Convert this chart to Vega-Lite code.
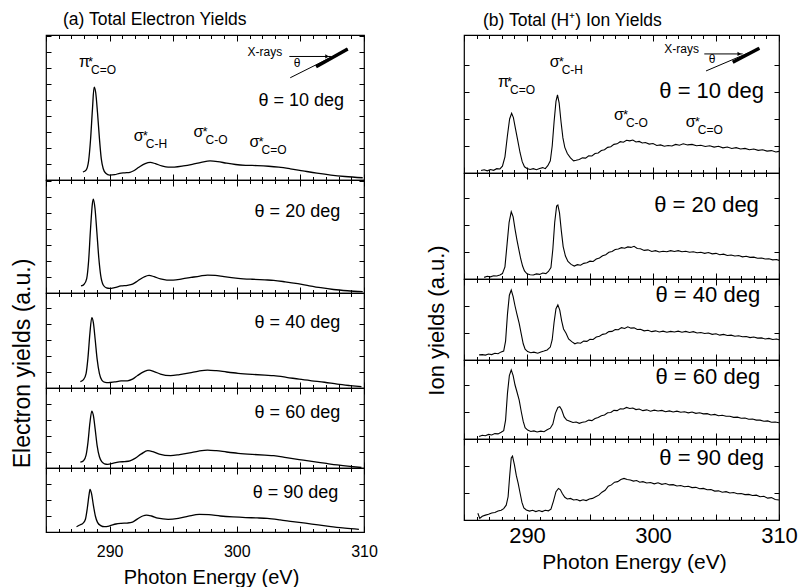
{
"$schema": "https://vega.github.io/schema/vega-lite/v6.json",
"background": "white",
"padding": {"left": 10, "top": 11, "right": 0, "bottom": 0},
"config": {
 "font": "Liberation Sans",
 "view": {"stroke": "black", "strokeWidth": 1.2},
 "axis": {"domain": false, "grid": false, "tickColor": "black", "tickWidth": 1, "labelColor": "black", "titleColor": "black", "titleFontWeight": "normal", "labelFont": "Liberation Sans", "titleFont": "Liberation Sans"},
 "axisY": {"labels": false, "tickSize": -5},
 "text": {"baseline": "alphabetic", "align": "left", "color": "black"},
 "title": {"font": "Liberation Sans", "fontWeight": "normal", "color": "black", "anchor": "start", "frame": "group"}
},
"datasets": {
 "L": [
  {"p":1,"e":287.9,"v":0.5},{"p":1,"e":288.15,"v":0.62},{"p":1,"e":288.35,"v":1.2},{"p":1,"e":288.5,"v":2.5},{"p":1,"e":288.65,"v":4.4},{"p":1,"e":288.78,"v":5.8},{"p":1,"e":288.9,"v":5.5},{"p":1,"e":289.05,"v":4.2},{"p":1,"e":289.2,"v":2.6},{"p":1,"e":289.35,"v":1.3},{"p":1,"e":289.5,"v":0.7},{"p":1,"e":289.7,"v":0.42},{"p":1,"e":290.0,"v":0.3},{"p":1,"e":290.4,"v":0.33},{"p":1,"e":290.8,"v":0.42},{"p":1,"e":291.2,"v":0.45},{"p":1,"e":291.6,"v":0.48},{"p":1,"e":291.9,"v":0.58},{"p":1,"e":292.3,"v":0.8},{"p":1,"e":292.8,"v":1.03},{"p":1,"e":293.2,"v":1.1},{"p":1,"e":293.6,"v":1.02},{"p":1,"e":294.1,"v":0.88},{"p":1,"e":294.6,"v":0.8},{"p":1,"e":295.1,"v":0.81},{"p":1,"e":295.8,"v":0.88},{"p":1,"e":296.5,"v":0.98},{"p":1,"e":297.2,"v":1.1},{"p":1,"e":297.9,"v":1.19},{"p":1,"e":298.5,"v":1.15},{"p":1,"e":299.2,"v":1.05},{"p":1,"e":299.9,"v":0.97},{"p":1,"e":300.7,"v":0.92},{"p":1,"e":301.6,"v":0.9},{"p":1,"e":302.5,"v":0.86},{"p":1,"e":303.3,"v":0.8},{"p":1,"e":304.2,"v":0.7},{"p":1,"e":305.2,"v":0.57},{"p":1,"e":306.3,"v":0.43},{"p":1,"e":307.4,"v":0.31},{"p":1,"e":308.5,"v":0.22},{"p":1,"e":309.9,"v":0.14},
  {"p":2,"e":287.75,"v":0.44},{"p":2,"e":288.0,"v":0.55},{"p":2,"e":288.2,"v":0.9},{"p":2,"e":288.35,"v":2.0},{"p":2,"e":288.5,"v":4.0},{"p":2,"e":288.65,"v":5.6},{"p":2,"e":288.72,"v":5.86},{"p":2,"e":288.85,"v":5.3},{"p":2,"e":289.0,"v":3.8},{"p":2,"e":289.15,"v":2.2},{"p":2,"e":289.3,"v":1.1},{"p":2,"e":289.5,"v":0.5},{"p":2,"e":289.75,"v":0.32},{"p":2,"e":290.0,"v":0.29},{"p":2,"e":290.4,"v":0.34},{"p":2,"e":290.9,"v":0.44},{"p":2,"e":291.4,"v":0.48},{"p":2,"e":291.8,"v":0.55},{"p":2,"e":292.2,"v":0.75},{"p":2,"e":292.7,"v":1.0},{"p":2,"e":293.1,"v":1.1},{"p":2,"e":293.5,"v":1.02},{"p":2,"e":294.0,"v":0.88},{"p":2,"e":294.5,"v":0.81},{"p":2,"e":295.0,"v":0.81},{"p":2,"e":295.7,"v":0.88},{"p":2,"e":296.4,"v":0.97},{"p":2,"e":297.1,"v":1.06},{"p":2,"e":297.7,"v":1.12},{"p":2,"e":298.3,"v":1.1},{"p":2,"e":299.0,"v":1.02},{"p":2,"e":300.1,"v":0.92},{"p":2,"e":301.2,"v":0.86},{"p":2,"e":302.2,"v":0.82},{"p":2,"e":302.9,"v":0.79},{"p":2,"e":303.8,"v":0.7},{"p":2,"e":304.8,"v":0.58},{"p":2,"e":305.7,"v":0.45},{"p":2,"e":306.6,"v":0.33},{"p":2,"e":307.6,"v":0.22},{"p":2,"e":308.7,"v":0.14},{"p":2,"e":309.9,"v":0.08},
  {"p":3,"e":287.7,"v":0.4},{"p":3,"e":287.95,"v":0.52},{"p":3,"e":288.15,"v":0.9},{"p":3,"e":288.3,"v":1.9},{"p":3,"e":288.45,"v":3.4},{"p":3,"e":288.6,"v":4.4},{"p":3,"e":288.72,"v":4.1},{"p":3,"e":288.87,"v":3.0},{"p":3,"e":289.02,"v":1.8},{"p":3,"e":289.2,"v":0.9},{"p":3,"e":289.4,"v":0.48},{"p":3,"e":289.65,"v":0.35},{"p":3,"e":289.9,"v":0.33},{"p":3,"e":290.4,"v":0.38},{"p":3,"e":290.9,"v":0.44},{"p":3,"e":291.4,"v":0.45},{"p":3,"e":291.8,"v":0.55},{"p":3,"e":292.2,"v":0.78},{"p":3,"e":292.7,"v":1.02},{"p":3,"e":293.1,"v":1.12},{"p":3,"e":293.5,"v":1.03},{"p":3,"e":294.0,"v":0.87},{"p":3,"e":294.8,"v":0.77},{"p":3,"e":295.5,"v":0.84},{"p":3,"e":296.3,"v":0.95},{"p":3,"e":297.0,"v":1.06},{"p":3,"e":297.7,"v":1.12},{"p":3,"e":298.4,"v":1.08},{"p":3,"e":299.2,"v":1.0},{"p":3,"e":300.1,"v":0.92},{"p":3,"e":301.2,"v":0.85},{"p":3,"e":302.2,"v":0.8},{"p":3,"e":302.9,"v":0.77},{"p":3,"e":303.9,"v":0.67},{"p":3,"e":304.9,"v":0.55},{"p":3,"e":305.9,"v":0.45},{"p":3,"e":306.9,"v":0.36},{"p":3,"e":307.9,"v":0.24},{"p":3,"e":308.9,"v":0.15},{"p":3,"e":309.8,"v":0.08},
  {"p":4,"e":287.7,"v":0.36},{"p":4,"e":287.95,"v":0.45},{"p":4,"e":288.15,"v":0.8},{"p":4,"e":288.3,"v":1.6},{"p":4,"e":288.45,"v":2.8},{"p":4,"e":288.6,"v":3.56},{"p":4,"e":288.72,"v":3.3},{"p":4,"e":288.87,"v":2.4},{"p":4,"e":289.02,"v":1.4},{"p":4,"e":289.2,"v":0.7},{"p":4,"e":289.4,"v":0.38},{"p":4,"e":289.6,"v":0.26},{"p":4,"e":289.85,"v":0.23},{"p":4,"e":290.3,"v":0.3},{"p":4,"e":290.8,"v":0.38},{"p":4,"e":291.2,"v":0.4},{"p":4,"e":291.6,"v":0.45},{"p":4,"e":292.0,"v":0.6},{"p":4,"e":292.5,"v":0.88},{"p":4,"e":293.0,"v":1.08},{"p":4,"e":293.4,"v":1.02},{"p":4,"e":293.9,"v":0.87},{"p":4,"e":294.8,"v":0.77},{"p":4,"e":295.5,"v":0.84},{"p":4,"e":296.3,"v":0.95},{"p":4,"e":297.0,"v":1.06},{"p":4,"e":297.7,"v":1.12},{"p":4,"e":298.4,"v":1.08},{"p":4,"e":299.2,"v":1.0},{"p":4,"e":300.1,"v":0.92},{"p":4,"e":301.2,"v":0.85},{"p":4,"e":302.2,"v":0.8},{"p":4,"e":302.9,"v":0.77},{"p":4,"e":303.9,"v":0.65},{"p":4,"e":304.9,"v":0.53},{"p":4,"e":305.9,"v":0.41},{"p":4,"e":306.9,"v":0.3},{"p":4,"e":307.9,"v":0.19},{"p":4,"e":308.9,"v":0.1},{"p":4,"e":309.8,"v":0.03},
  {"p":5,"e":287.4,"v":0.33},{"p":5,"e":287.7,"v":0.45},{"p":5,"e":287.9,"v":0.54},{"p":5,"e":288.1,"v":0.8},{"p":5,"e":288.25,"v":1.5},{"p":5,"e":288.38,"v":2.3},{"p":5,"e":288.46,"v":2.67},{"p":5,"e":288.58,"v":2.4},{"p":5,"e":288.72,"v":1.7},{"p":5,"e":288.88,"v":1.0},{"p":5,"e":289.05,"v":0.6},{"p":5,"e":289.3,"v":0.4},{"p":5,"e":289.6,"v":0.33},{"p":5,"e":290.0,"v":0.38},{"p":5,"e":290.5,"v":0.5},{"p":5,"e":290.9,"v":0.54},{"p":5,"e":291.4,"v":0.56},{"p":5,"e":291.8,"v":0.62},{"p":5,"e":292.2,"v":0.82},{"p":5,"e":292.6,"v":1.0},{"p":5,"e":292.9,"v":1.06},{"p":5,"e":293.3,"v":1.0},{"p":5,"e":293.8,"v":0.86},{"p":5,"e":294.6,"v":0.79},{"p":5,"e":295.4,"v":0.85},{"p":5,"e":296.2,"v":0.99},{"p":5,"e":297.05,"v":1.1},{"p":5,"e":297.8,"v":1.08},{"p":5,"e":298.7,"v":1.0},{"p":5,"e":299.7,"v":0.94},{"p":5,"e":300.7,"v":0.9},{"p":5,"e":301.6,"v":0.88},{"p":5,"e":302.4,"v":0.85},{"p":5,"e":303.4,"v":0.76},{"p":5,"e":304.4,"v":0.65},{"p":5,"e":305.4,"v":0.55},{"p":5,"e":306.4,"v":0.44},{"p":5,"e":307.4,"v":0.34},{"p":5,"e":308.5,"v":0.24},{"p":5,"e":309.6,"v":0.17}
 ],
 "R": [
  {"p":1,"e":286.35,"v":0.09},{"p":1,"e":286.6,"v":0.12},{"p":1,"e":286.85,"v":0.08},{"p":1,"e":287.1,"v":0.13},{"p":1,"e":287.35,"v":0.1},{"p":1,"e":287.6,"v":0.16},{"p":1,"e":287.85,"v":0.15},{"p":1,"e":288.05,"v":0.25},{"p":1,"e":288.25,"v":0.6},{"p":1,"e":288.45,"v":1.4},{"p":1,"e":288.62,"v":2.0},{"p":1,"e":288.78,"v":2.21},{"p":1,"e":288.92,"v":2.05},{"p":1,"e":289.08,"v":1.65},{"p":1,"e":289.26,"v":1.22},{"p":1,"e":289.45,"v":0.75},{"p":1,"e":289.62,"v":0.42},{"p":1,"e":289.8,"v":0.23},{"p":1,"e":290.0,"v":0.17},{"p":1,"e":290.25,"v":0.13},{"p":1,"e":290.5,"v":0.16},{"p":1,"e":290.75,"v":0.12},{"p":1,"e":291.0,"v":0.17},{"p":1,"e":291.25,"v":0.2},{"p":1,"e":291.45,"v":0.16},{"p":1,"e":291.65,"v":0.27},{"p":1,"e":291.85,"v":0.45},{"p":1,"e":292.0,"v":1.0},{"p":1,"e":292.15,"v":1.9},{"p":1,"e":292.3,"v":2.65},{"p":1,"e":292.42,"v":2.89},{"p":1,"e":292.55,"v":2.6},{"p":1,"e":292.7,"v":1.9},{"p":1,"e":292.85,"v":1.3},{"p":1,"e":293.0,"v":0.95},{"p":1,"e":293.2,"v":0.72},{"p":1,"e":293.45,"v":0.56},{"p":1,"e":293.7,"v":0.45},{"p":1,"e":293.9,"v":0.47},{"p":1,"e":294.15,"v":0.5},{"p":1,"e":294.4,"v":0.56},{"p":1,"e":294.65,"v":0.55},{"p":1,"e":294.9,"v":0.64},{"p":1,"e":295.15,"v":0.63},{"p":1,"e":295.4,"v":0.72},{"p":1,"e":295.65,"v":0.74},{"p":1,"e":295.9,"v":0.83},{"p":1,"e":296.15,"v":0.86},{"p":1,"e":296.4,"v":0.95},{"p":1,"e":296.65,"v":0.97},{"p":1,"e":296.9,"v":1.06},{"p":1,"e":297.15,"v":1.08},{"p":1,"e":297.4,"v":1.16},{"p":1,"e":297.65,"v":1.14},{"p":1,"e":297.9,"v":1.21},{"p":1,"e":298.15,"v":1.19},{"p":1,"e":298.4,"v":1.22},{"p":1,"e":298.65,"v":1.15},{"p":1,"e":298.9,"v":1.17},{"p":1,"e":299.15,"v":1.11},{"p":1,"e":299.4,"v":1.13},{"p":1,"e":299.7,"v":1.07},{"p":1,"e":300.0,"v":1.09},{"p":1,"e":300.3,"v":1.02},{"p":1,"e":300.6,"v":1.04},{"p":1,"e":300.9,"v":0.99},{"p":1,"e":301.2,"v":1.02},{"p":1,"e":301.5,"v":1.0},{"p":1,"e":301.8,"v":1.06},{"p":1,"e":302.1,"v":1.03},{"p":1,"e":302.4,"v":1.08},{"p":1,"e":302.75,"v":1.04},{"p":1,"e":303.1,"v":1.06},{"p":1,"e":303.45,"v":1.01},{"p":1,"e":303.8,"v":1.03},{"p":1,"e":304.15,"v":0.98},{"p":1,"e":304.5,"v":1.01},{"p":1,"e":304.85,"v":0.96},{"p":1,"e":305.2,"v":0.99},{"p":1,"e":305.55,"v":0.93},{"p":1,"e":305.9,"v":0.96},{"p":1,"e":306.25,"v":0.91},{"p":1,"e":306.6,"v":0.94},{"p":1,"e":306.95,"v":0.89},{"p":1,"e":307.3,"v":0.91},{"p":1,"e":307.65,"v":0.86},{"p":1,"e":308.0,"v":0.89},{"p":1,"e":308.35,"v":0.84},{"p":1,"e":308.7,"v":0.86},{"p":1,"e":309.05,"v":0.81},{"p":1,"e":309.4,"v":0.83},{"p":1,"e":309.75,"v":0.78},{"p":1,"e":310.0,"v":0.8},
  {"p":2,"e":286.6,"v":0.06},{"p":2,"e":286.85,"v":0.1},{"p":2,"e":287.1,"v":0.08},{"p":2,"e":287.35,"v":0.12},{"p":2,"e":287.6,"v":0.11},{"p":2,"e":287.85,"v":0.15},{"p":2,"e":288.05,"v":0.2},{"p":2,"e":288.25,"v":0.45},{"p":2,"e":288.42,"v":1.3},{"p":2,"e":288.58,"v":2.1},{"p":2,"e":288.75,"v":2.49},{"p":2,"e":288.9,"v":2.3},{"p":2,"e":289.05,"v":1.85},{"p":2,"e":289.2,"v":1.45},{"p":2,"e":289.35,"v":1.1},{"p":2,"e":289.5,"v":0.75},{"p":2,"e":289.65,"v":0.48},{"p":2,"e":289.8,"v":0.3},{"p":2,"e":290.0,"v":0.19},{"p":2,"e":290.25,"v":0.16},{"p":2,"e":290.5,"v":0.15},{"p":2,"e":290.75,"v":0.19},{"p":2,"e":291.0,"v":0.17},{"p":2,"e":291.25,"v":0.22},{"p":2,"e":291.5,"v":0.2},{"p":2,"e":291.7,"v":0.28},{"p":2,"e":291.9,"v":0.42},{"p":2,"e":292.05,"v":1.1},{"p":2,"e":292.2,"v":2.1},{"p":2,"e":292.35,"v":2.7},{"p":2,"e":292.45,"v":2.74},{"p":2,"e":292.58,"v":2.45},{"p":2,"e":292.72,"v":1.8},{"p":2,"e":292.87,"v":1.2},{"p":2,"e":293.05,"v":0.85},{"p":2,"e":293.25,"v":0.65},{"p":2,"e":293.5,"v":0.54},{"p":2,"e":293.75,"v":0.48},{"p":2,"e":294.0,"v":0.53},{"p":2,"e":294.25,"v":0.51},{"p":2,"e":294.5,"v":0.58},{"p":2,"e":294.75,"v":0.6},{"p":2,"e":295.0,"v":0.66},{"p":2,"e":295.25,"v":0.65},{"p":2,"e":295.5,"v":0.74},{"p":2,"e":295.75,"v":0.78},{"p":2,"e":296.0,"v":0.86},{"p":2,"e":296.25,"v":0.9},{"p":2,"e":296.5,"v":0.99},{"p":2,"e":296.75,"v":1.02},{"p":2,"e":297.0,"v":1.09},{"p":2,"e":297.25,"v":1.11},{"p":2,"e":297.5,"v":1.16},{"p":2,"e":297.75,"v":1.14},{"p":2,"e":298.0,"v":1.19},{"p":2,"e":298.25,"v":1.17},{"p":2,"e":298.5,"v":1.21},{"p":2,"e":298.75,"v":1.13},{"p":2,"e":299.0,"v":1.12},{"p":2,"e":299.3,"v":1.06},{"p":2,"e":299.6,"v":1.08},{"p":2,"e":299.9,"v":1.02},{"p":2,"e":300.2,"v":1.05},{"p":2,"e":300.5,"v":1.0},{"p":2,"e":300.8,"v":1.03},{"p":2,"e":301.1,"v":1.01},{"p":2,"e":301.4,"v":1.05},{"p":2,"e":301.7,"v":1.02},{"p":2,"e":302.0,"v":1.05},{"p":2,"e":302.3,"v":1.01},{"p":2,"e":302.6,"v":1.03},{"p":2,"e":302.9,"v":0.99},{"p":2,"e":303.2,"v":1.01},{"p":2,"e":303.5,"v":0.97},{"p":2,"e":303.8,"v":0.99},{"p":2,"e":304.1,"v":0.95},{"p":2,"e":304.4,"v":0.98},{"p":2,"e":304.7,"v":0.93},{"p":2,"e":305.0,"v":0.95},{"p":2,"e":305.3,"v":0.9},{"p":2,"e":305.6,"v":0.92},{"p":2,"e":305.9,"v":0.87},{"p":2,"e":306.2,"v":0.89},{"p":2,"e":306.5,"v":0.85},{"p":2,"e":306.8,"v":0.87},{"p":2,"e":307.1,"v":0.82},{"p":2,"e":307.4,"v":0.84},{"p":2,"e":307.7,"v":0.8},{"p":2,"e":308.0,"v":0.81},{"p":2,"e":308.3,"v":0.77},{"p":2,"e":308.6,"v":0.78},{"p":2,"e":308.9,"v":0.74},{"p":2,"e":309.2,"v":0.75},{"p":2,"e":309.5,"v":0.71},{"p":2,"e":309.8,"v":0.72},{"p":2,"e":310.0,"v":0.69},
  {"p":3,"e":286.2,"v":0.19},{"p":3,"e":286.45,"v":0.2},{"p":3,"e":286.7,"v":0.18},{"p":3,"e":286.95,"v":0.22},{"p":3,"e":287.2,"v":0.2},{"p":3,"e":287.45,"v":0.25},{"p":3,"e":287.7,"v":0.23},{"p":3,"e":287.95,"v":0.3},{"p":3,"e":288.15,"v":0.33},{"p":3,"e":288.3,"v":0.7},{"p":3,"e":288.45,"v":1.7},{"p":3,"e":288.6,"v":2.4},{"p":3,"e":288.75,"v":2.59},{"p":3,"e":288.9,"v":2.35},{"p":3,"e":289.05,"v":2.0},{"p":3,"e":289.2,"v":1.7},{"p":3,"e":289.38,"v":1.36},{"p":3,"e":289.55,"v":0.95},{"p":3,"e":289.7,"v":0.6},{"p":3,"e":289.85,"v":0.4},{"p":3,"e":290.05,"v":0.31},{"p":3,"e":290.3,"v":0.27},{"p":3,"e":290.55,"v":0.29},{"p":3,"e":290.85,"v":0.25},{"p":3,"e":291.1,"v":0.3},{"p":3,"e":291.35,"v":0.33},{"p":3,"e":291.6,"v":0.37},{"p":3,"e":291.85,"v":0.48},{"p":3,"e":292.0,"v":0.75},{"p":3,"e":292.15,"v":1.4},{"p":3,"e":292.3,"v":1.9},{"p":3,"e":292.45,"v":2.04},{"p":3,"e":292.6,"v":1.85},{"p":3,"e":292.75,"v":1.45},{"p":3,"e":292.9,"v":1.15},{"p":3,"e":293.1,"v":0.99},{"p":3,"e":293.3,"v":0.78},{"p":3,"e":293.55,"v":0.68},{"p":3,"e":293.8,"v":0.6},{"p":3,"e":294.0,"v":0.64},{"p":3,"e":294.25,"v":0.62},{"p":3,"e":294.5,"v":0.7},{"p":3,"e":294.75,"v":0.69},{"p":3,"e":295.0,"v":0.77},{"p":3,"e":295.25,"v":0.76},{"p":3,"e":295.5,"v":0.85},{"p":3,"e":295.75,"v":0.88},{"p":3,"e":296.0,"v":0.95},{"p":3,"e":296.25,"v":0.97},{"p":3,"e":296.5,"v":1.05},{"p":3,"e":296.75,"v":1.06},{"p":3,"e":297.0,"v":1.13},{"p":3,"e":297.25,"v":1.12},{"p":3,"e":297.5,"v":1.2},{"p":3,"e":297.75,"v":1.17},{"p":3,"e":298.0,"v":1.23},{"p":3,"e":298.25,"v":1.18},{"p":3,"e":298.5,"v":1.19},{"p":3,"e":298.75,"v":1.13},{"p":3,"e":299.0,"v":1.14},{"p":3,"e":299.3,"v":1.08},{"p":3,"e":299.6,"v":1.1},{"p":3,"e":299.9,"v":1.05},{"p":3,"e":300.2,"v":1.08},{"p":3,"e":300.5,"v":1.04},{"p":3,"e":300.8,"v":1.07},{"p":3,"e":301.1,"v":1.03},{"p":3,"e":301.4,"v":1.06},{"p":3,"e":301.7,"v":1.04},{"p":3,"e":302.0,"v":1.07},{"p":3,"e":302.3,"v":1.03},{"p":3,"e":302.6,"v":1.06},{"p":3,"e":302.9,"v":1.02},{"p":3,"e":303.2,"v":1.05},{"p":3,"e":303.5,"v":1.0},{"p":3,"e":303.8,"v":1.02},{"p":3,"e":304.1,"v":0.98},{"p":3,"e":304.4,"v":1.0},{"p":3,"e":304.7,"v":0.95},{"p":3,"e":305.0,"v":0.97},{"p":3,"e":305.3,"v":0.92},{"p":3,"e":305.6,"v":0.95},{"p":3,"e":305.9,"v":0.91},{"p":3,"e":306.2,"v":0.92},{"p":3,"e":306.5,"v":0.88},{"p":3,"e":306.8,"v":0.9},{"p":3,"e":307.1,"v":0.86},{"p":3,"e":307.4,"v":0.87},{"p":3,"e":307.7,"v":0.83},{"p":3,"e":308.0,"v":0.85},{"p":3,"e":308.3,"v":0.81},{"p":3,"e":308.6,"v":0.82},{"p":3,"e":308.9,"v":0.78},{"p":3,"e":309.2,"v":0.8},{"p":3,"e":309.5,"v":0.76},{"p":3,"e":309.8,"v":0.78},{"p":3,"e":310.0,"v":0.75},
  {"p":4,"e":286.2,"v":0.09},{"p":4,"e":286.45,"v":0.14},{"p":4,"e":286.7,"v":0.12},{"p":4,"e":286.95,"v":0.17},{"p":4,"e":287.2,"v":0.15},{"p":4,"e":287.45,"v":0.2},{"p":4,"e":287.7,"v":0.19},{"p":4,"e":287.95,"v":0.25},{"p":4,"e":288.15,"v":0.31},{"p":4,"e":288.3,"v":0.7},{"p":4,"e":288.45,"v":1.7},{"p":4,"e":288.6,"v":2.35},{"p":4,"e":288.75,"v":2.56},{"p":4,"e":288.9,"v":2.35},{"p":4,"e":289.05,"v":2.0},{"p":4,"e":289.2,"v":1.75},{"p":4,"e":289.38,"v":1.44},{"p":4,"e":289.55,"v":1.0},{"p":4,"e":289.7,"v":0.65},{"p":4,"e":289.85,"v":0.42},{"p":4,"e":290.05,"v":0.33},{"p":4,"e":290.3,"v":0.28},{"p":4,"e":290.55,"v":0.3},{"p":4,"e":290.8,"v":0.26},{"p":4,"e":291.1,"v":0.29},{"p":4,"e":291.35,"v":0.27},{"p":4,"e":291.6,"v":0.34},{"p":4,"e":291.85,"v":0.4},{"p":4,"e":292.05,"v":0.55},{"p":4,"e":292.25,"v":0.95},{"p":4,"e":292.45,"v":1.17},{"p":4,"e":292.6,"v":1.2},{"p":4,"e":292.75,"v":1.08},{"p":4,"e":292.95,"v":0.82},{"p":4,"e":293.15,"v":0.7},{"p":4,"e":293.4,"v":0.66},{"p":4,"e":293.65,"v":0.61},{"p":4,"e":293.9,"v":0.63},{"p":4,"e":294.15,"v":0.58},{"p":4,"e":294.4,"v":0.62},{"p":4,"e":294.65,"v":0.64},{"p":4,"e":294.9,"v":0.7},{"p":4,"e":295.15,"v":0.68},{"p":4,"e":295.4,"v":0.76},{"p":4,"e":295.65,"v":0.8},{"p":4,"e":295.9,"v":0.86},{"p":4,"e":296.15,"v":0.89},{"p":4,"e":296.4,"v":0.97},{"p":4,"e":296.65,"v":0.98},{"p":4,"e":296.9,"v":1.06},{"p":4,"e":297.15,"v":1.05},{"p":4,"e":297.4,"v":1.12},{"p":4,"e":297.65,"v":1.11},{"p":4,"e":297.9,"v":1.17},{"p":4,"e":298.15,"v":1.13},{"p":4,"e":298.4,"v":1.15},{"p":4,"e":298.65,"v":1.09},{"p":4,"e":298.9,"v":1.11},{"p":4,"e":299.2,"v":1.05},{"p":4,"e":299.5,"v":1.08},{"p":4,"e":299.8,"v":1.03},{"p":4,"e":300.1,"v":1.07},{"p":4,"e":300.4,"v":1.04},{"p":4,"e":300.7,"v":1.06},{"p":4,"e":301.0,"v":1.01},{"p":4,"e":301.3,"v":1.04},{"p":4,"e":301.6,"v":1.0},{"p":4,"e":301.9,"v":1.03},{"p":4,"e":302.2,"v":0.99},{"p":4,"e":302.5,"v":1.01},{"p":4,"e":302.8,"v":0.97},{"p":4,"e":303.1,"v":1.0},{"p":4,"e":303.4,"v":0.95},{"p":4,"e":303.7,"v":0.97},{"p":4,"e":304.0,"v":0.93},{"p":4,"e":304.3,"v":0.94},{"p":4,"e":304.6,"v":0.89},{"p":4,"e":304.9,"v":0.91},{"p":4,"e":305.2,"v":0.86},{"p":4,"e":305.5,"v":0.88},{"p":4,"e":305.8,"v":0.84},{"p":4,"e":306.1,"v":0.84},{"p":4,"e":306.4,"v":0.8},{"p":4,"e":306.7,"v":0.81},{"p":4,"e":307.0,"v":0.77},{"p":4,"e":307.3,"v":0.78},{"p":4,"e":307.6,"v":0.73},{"p":4,"e":307.9,"v":0.74},{"p":4,"e":308.2,"v":0.7},{"p":4,"e":308.5,"v":0.7},{"p":4,"e":308.8,"v":0.66},{"p":4,"e":309.1,"v":0.67},{"p":4,"e":309.4,"v":0.62},{"p":4,"e":309.7,"v":0.63},{"p":4,"e":310.0,"v":0.6},
  {"p":5,"e":286.1,"v":0.25},{"p":5,"e":286.25,"v":0.06},{"p":5,"e":286.45,"v":0.14},{"p":5,"e":286.7,"v":0.18},{"p":5,"e":286.95,"v":0.21},{"p":5,"e":287.2,"v":0.26},{"p":5,"e":287.45,"v":0.28},{"p":5,"e":287.7,"v":0.33},{"p":5,"e":287.95,"v":0.36},{"p":5,"e":288.15,"v":0.42},{"p":5,"e":288.35,"v":0.55},{"p":5,"e":288.5,"v":0.86},{"p":5,"e":288.62,"v":1.6},{"p":5,"e":288.75,"v":2.3},{"p":5,"e":288.85,"v":2.37},{"p":5,"e":289.0,"v":2.05},{"p":5,"e":289.15,"v":1.65},{"p":5,"e":289.3,"v":1.36},{"p":5,"e":289.45,"v":1.0},{"p":5,"e":289.6,"v":0.65},{"p":5,"e":289.75,"v":0.45},{"p":5,"e":289.95,"v":0.37},{"p":5,"e":290.2,"v":0.33},{"p":5,"e":290.45,"v":0.36},{"p":5,"e":290.7,"v":0.31},{"p":5,"e":290.95,"v":0.35},{"p":5,"e":291.2,"v":0.31},{"p":5,"e":291.45,"v":0.36},{"p":5,"e":291.7,"v":0.34},{"p":5,"e":291.9,"v":0.4},{"p":5,"e":292.1,"v":0.7},{"p":5,"e":292.3,"v":1.05},{"p":5,"e":292.5,"v":1.17},{"p":5,"e":292.65,"v":1.12},{"p":5,"e":292.8,"v":0.98},{"p":5,"e":293.0,"v":0.84},{"p":5,"e":293.2,"v":0.78},{"p":5,"e":293.45,"v":0.8},{"p":5,"e":293.7,"v":0.74},{"p":5,"e":293.95,"v":0.76},{"p":5,"e":294.2,"v":0.71},{"p":5,"e":294.45,"v":0.75},{"p":5,"e":294.7,"v":0.72},{"p":5,"e":294.95,"v":0.78},{"p":5,"e":295.2,"v":0.8},{"p":5,"e":295.45,"v":0.86},{"p":5,"e":295.7,"v":0.92},{"p":5,"e":295.95,"v":1.03},{"p":5,"e":296.2,"v":1.1},{"p":5,"e":296.45,"v":1.25},{"p":5,"e":296.7,"v":1.3},{"p":5,"e":296.95,"v":1.4},{"p":5,"e":297.2,"v":1.42},{"p":5,"e":297.45,"v":1.5},{"p":5,"e":297.7,"v":1.54},{"p":5,"e":297.95,"v":1.5},{"p":5,"e":298.2,"v":1.48},{"p":5,"e":298.45,"v":1.44},{"p":5,"e":298.7,"v":1.46},{"p":5,"e":298.95,"v":1.4},{"p":5,"e":299.2,"v":1.42},{"p":5,"e":299.5,"v":1.37},{"p":5,"e":299.8,"v":1.39},{"p":5,"e":300.1,"v":1.34},{"p":5,"e":300.4,"v":1.38},{"p":5,"e":300.7,"v":1.32},{"p":5,"e":301.0,"v":1.35},{"p":5,"e":301.3,"v":1.3},{"p":5,"e":301.6,"v":1.31},{"p":5,"e":301.9,"v":1.26},{"p":5,"e":302.2,"v":1.28},{"p":5,"e":302.5,"v":1.23},{"p":5,"e":302.8,"v":1.25},{"p":5,"e":303.1,"v":1.2},{"p":5,"e":303.4,"v":1.21},{"p":5,"e":303.7,"v":1.16},{"p":5,"e":304.0,"v":1.17},{"p":5,"e":304.3,"v":1.12},{"p":5,"e":304.6,"v":1.13},{"p":5,"e":304.9,"v":1.07},{"p":5,"e":305.2,"v":1.08},{"p":5,"e":305.5,"v":1.03},{"p":5,"e":305.8,"v":1.05},{"p":5,"e":306.1,"v":1.0},{"p":5,"e":306.4,"v":1.02},{"p":5,"e":306.7,"v":0.97},{"p":5,"e":307.0,"v":0.98},{"p":5,"e":307.3,"v":0.94},{"p":5,"e":307.6,"v":0.95},{"p":5,"e":307.9,"v":0.91},{"p":5,"e":308.2,"v":0.92},{"p":5,"e":308.5,"v":0.86},{"p":5,"e":308.8,"v":0.88},{"p":5,"e":309.1,"v":0.81},{"p":5,"e":309.4,"v":0.83},{"p":5,"e":309.7,"v":0.76},{"p":5,"e":310.0,"v":0.74}
 ],
 "thL": [{"p":1,"e":301.7,"v":4.63,"t":"θ = 10 deg"},{"p":2,"e":301.4,"v":4.75,"t":"θ = 20 deg"},{"p":3,"e":301.4,"v":3.73,"t":"θ = 40 deg"},{"p":4,"e":301.4,"v":3.1,"t":"θ = 60 deg"},{"p":5,"e":301.25,"v":2.1,"t":"θ = 90 deg"}],
 "thR": [{"p":1,"e":300.5,"v":2.77,"t":"θ = 10 deg"},{"p":2,"e":300.1,"v":2.49,"t":"θ = 20 deg"},{"p":3,"e":300.2,"v":2.16,"t":"θ = 40 deg"},{"p":4,"e":300.2,"v":2.04,"t":"θ = 60 deg"},{"p":5,"e":300.5,"v":2.04,"t":"θ = 90 deg"}],
 "nL": [{"e":287.6,"v":7.06,"m":"π","s":"C=O"},{"e":291.9,"v":2.46,"m":"σ","s":"C-H"},{"e":296.6,"v":2.71,"m":"σ","s":"C-O"},{"e":301.0,"v":2.08,"m":"σ","s":"C=O"}],
 "nR": [{"e":287.7,"v":3.2,"m":"π","s":"C=O"},{"e":291.8,"v":3.94,"m":"σ","s":"C-H"},{"e":296.9,"v":1.96,"m":"σ","s":"C-O"},{"e":302.6,"v":1.69,"m":"σ","s":"C=O"}],
 "xL": [{"k":"a","e":304.13,"v":7.72,"e2":307.4,"v2":7.72},{"k":"d","e":304.2,"v":6.39,"e2":308.72,"v2":8.19},{"k":"t","e":306.23,"v":7.08,"e2":308.72,"v2":8.19},{"k":"h","e":307.1,"v":7.72}],
 "xR": [{"k":"a","e":304.07,"v":4.41,"e2":307.12,"v2":4.41},{"k":"d","e":304.21,"v":3.78,"e2":308.44,"v2":4.62},{"k":"t","e":306.33,"v":4.1,"e2":308.44,"v2":4.62},{"k":"h","e":306.85,"v":4.41}],
 "lbL": [{"e":300.85,"v":7.77,"t":"X-rays"},{"e":304.47,"v":7.08,"t":"θ"}],
 "lbR": [{"e":300.9,"v":4.43,"t":"X-rays"},{"e":304.42,"v":4.06,"t":"θ"}]
},
"spacing": 46,
"hconcat": [
 {
  "title": {"text": "(a) Total Electron Yields", "fontSize": 17.5, "dx": 17, "offset": 5},
  "spacing": 0,
  "bounds": "flush",
  "vconcat": [
   {"width": 318, "height": 145, "resolve": {"axis": {"x": "independent", "y": "independent"}},
    "layer": [
     {"data": {"name": "L"}, "transform": [{"filter": "datum.p==1"}], "mark": {"type": "line", "color": "black", "strokeWidth": 1.3, "interpolate": "monotone"},
      "encoding": {"x": {"field": "e", "type": "quantitative", "scale": {"domain": [285, 310], "nice": false, "zero": false}, "axis": {"orient": "bottom", "tickCount": 25, "labels": false, "title": null, "tickSize": {"condition": {"test": "datum.value % 5 === 0", "value": -6}, "value": -3.5}}},
                   "y": {"field": "v", "type": "quantitative", "scale": {"domain": [0, 9.0625], "nice": false, "zero": false}, "axis": {"orient": "left", "values": [1,2,3,4,5,6,7,8,9], "title": null}}}},
     {"data": {"name": "thL"}, "transform": [{"filter": "datum.p==1"}], "mark": {"type": "text", "fontSize": 18},
      "encoding": {"x": {"field": "e", "type": "quantitative", "scale": {"domain": [285, 310], "nice": false, "zero": false}, "axis": {"orient": "top", "tickCount": 25, "labels": false, "title": null, "tickSize": {"condition": {"test": "datum.value % 5 === 0", "value": -6}, "value": -3.5}}},
                   "y": {"field": "v", "type": "quantitative", "scale": {"domain": [0, 9.0625], "nice": false, "zero": false}, "axis": {"orient": "right", "values": [1,2,3,4,5,6,7,8,9], "title": null}},
                   "text": {"field": "t"}}},
     {"data": {"name": "nL"}, "mark": {"type": "text", "fontSize": 16},
      "encoding": {"x": {"field": "e", "type": "quantitative", "scale": {"domain": [285, 310], "nice": false, "zero": false}, "axis": null},
                   "y": {"field": "v", "type": "quantitative", "scale": {"domain": [0, 9.0625], "nice": false, "zero": false}, "axis": null},
                   "text": {"field": "m"}}},
     {"data": {"name": "nL"}, "mark": {"type": "text", "fontSize": 13, "dx": 9, "dy": -1},
      "encoding": {"x": {"field": "e", "type": "quantitative", "scale": {"domain": [285, 310], "nice": false, "zero": false}, "axis": null},
                   "y": {"field": "v", "type": "quantitative", "scale": {"domain": [0, 9.0625], "nice": false, "zero": false}, "axis": null},
                   "text": {"value": "*"}}},
     {"data": {"name": "nL"}, "mark": {"type": "text", "fontSize": 12, "dx": 12, "dy": 7},
      "encoding": {"x": {"field": "e", "type": "quantitative", "scale": {"domain": [285, 310], "nice": false, "zero": false}, "axis": null},
                   "y": {"field": "v", "type": "quantitative", "scale": {"domain": [0, 9.0625], "nice": false, "zero": false}, "axis": null},
                   "text": {"field": "s"}}},
     {"data": {"name": "xL"}, "transform": [{"filter": "datum.k=='a' || datum.k=='d'"}], "mark": {"type": "rule", "color": "black", "strokeWidth": 1},
      "encoding": {"x": {"field": "e", "type": "quantitative", "scale": {"domain": [285, 310], "nice": false, "zero": false}, "axis": null},
                   "y": {"field": "v", "type": "quantitative", "scale": {"domain": [0, 9.0625], "nice": false, "zero": false}, "axis": null},
                   "x2": {"field": "e2"}, "y2": {"field": "v2"}}},
     {"data": {"name": "xL"}, "transform": [{"filter": "datum.k=='t'"}], "mark": {"type": "rule", "color": "black", "strokeWidth": 3.5},
      "encoding": {"x": {"field": "e", "type": "quantitative", "scale": {"domain": [285, 310], "nice": false, "zero": false}, "axis": null},
                   "y": {"field": "v", "type": "quantitative", "scale": {"domain": [0, 9.0625], "nice": false, "zero": false}, "axis": null},
                   "x2": {"field": "e2"}, "y2": {"field": "v2"}}},
     {"data": {"name": "xL"}, "transform": [{"filter": "datum.k=='h'"}], "mark": {"type": "point", "shape": "triangle-right", "filled": true, "color": "black", "size": 18, "opacity": 1},
      "encoding": {"x": {"field": "e", "type": "quantitative", "scale": {"domain": [285, 310], "nice": false, "zero": false}, "axis": null},
                   "y": {"field": "v", "type": "quantitative", "scale": {"domain": [0, 9.0625], "nice": false, "zero": false}, "axis": null}}},
     {"data": {"name": "lbL"}, "mark": {"type": "text", "fontSize": 12},
      "encoding": {"x": {"field": "e", "type": "quantitative", "scale": {"domain": [285, 310], "nice": false, "zero": false}, "axis": null},
                   "y": {"field": "v", "type": "quantitative", "scale": {"domain": [0, 9.0625], "nice": false, "zero": false}, "axis": null},
                   "text": {"field": "t"}}}
    ]},
   {"width": 318, "height": 113, "resolve": {"axis": {"x": "independent", "y": "independent"}},
    "layer": [
     {"data": {"name": "L"}, "transform": [{"filter": "datum.p==2"}], "mark": {"type": "line", "color": "black", "strokeWidth": 1.3, "interpolate": "monotone"},
      "encoding": {"x": {"field": "e", "type": "quantitative", "scale": {"domain": [285, 310], "nice": false, "zero": false}, "axis": {"orient": "bottom", "tickCount": 25, "labels": false, "title": null, "tickSize": {"condition": {"test": "datum.value % 5 === 0", "value": -6}, "value": -3.5}}},
                   "y": {"field": "v", "type": "quantitative", "scale": {"domain": [0, 7.0625], "nice": false, "zero": false}, "axis": {"orient": "left", "values": [1,2,3,4,5,6,7], "title": null}}}},
     {"data": {"name": "thL"}, "transform": [{"filter": "datum.p==2"}], "mark": {"type": "text", "fontSize": 18},
      "encoding": {"x": {"field": "e", "type": "quantitative", "scale": {"domain": [285, 310], "nice": false, "zero": false}, "axis": {"orient": "top", "tickCount": 25, "labels": false, "title": null, "tickSize": {"condition": {"test": "datum.value % 5 === 0", "value": -6}, "value": -3.5}}},
                   "y": {"field": "v", "type": "quantitative", "scale": {"domain": [0, 7.0625], "nice": false, "zero": false}, "axis": {"orient": "right", "values": [1,2,3,4,5,6,7], "title": null}},
                   "text": {"field": "t"}}}
    ]},
   {"width": 318, "height": 95, "resolve": {"axis": {"x": "independent", "y": "independent"}},
    "layer": [
     {"data": {"name": "L"}, "transform": [{"filter": "datum.p==3"}], "mark": {"type": "line", "color": "black", "strokeWidth": 1.3, "interpolate": "monotone"},
      "encoding": {"x": {"field": "e", "type": "quantitative", "scale": {"domain": [285, 310], "nice": false, "zero": false}, "axis": {"orient": "bottom", "tickCount": 25, "labels": false, "title": null, "tickSize": {"condition": {"test": "datum.value % 5 === 0", "value": -6}, "value": -3.5}}},
                   "y": {"field": "v", "type": "quantitative", "scale": {"domain": [0, 5.9375], "nice": false, "zero": false}, "axis": {"orient": "left", "values": [1,2,3,4,5], "title": "Electron yields (a.u.)", "titleFontSize": 23, "titleX": -12, "titleY": 70, "titleAngle": 270, "titleBaseline": "bottom", "titleAlign": "center"}}}},
     {"data": {"name": "thL"}, "transform": [{"filter": "datum.p==3"}], "mark": {"type": "text", "fontSize": 18},
      "encoding": {"x": {"field": "e", "type": "quantitative", "scale": {"domain": [285, 310], "nice": false, "zero": false}, "axis": {"orient": "top", "tickCount": 25, "labels": false, "title": null, "tickSize": {"condition": {"test": "datum.value % 5 === 0", "value": -6}, "value": -3.5}}},
                   "y": {"field": "v", "type": "quantitative", "scale": {"domain": [0, 5.9375], "nice": false, "zero": false}, "axis": {"orient": "right", "values": [1,2,3,4,5], "title": null}},
                   "text": {"field": "t"}}}
    ]},
   {"width": 318, "height": 80, "resolve": {"axis": {"x": "independent", "y": "independent"}},
    "layer": [
     {"data": {"name": "L"}, "transform": [{"filter": "datum.p==4"}], "mark": {"type": "line", "color": "black", "strokeWidth": 1.3, "interpolate": "monotone"},
      "encoding": {"x": {"field": "e", "type": "quantitative", "scale": {"domain": [285, 310], "nice": false, "zero": false}, "axis": {"orient": "bottom", "tickCount": 25, "labels": false, "title": null, "tickSize": {"condition": {"test": "datum.value % 5 === 0", "value": -6}, "value": -3.5}}},
                   "y": {"field": "v", "type": "quantitative", "scale": {"domain": [0, 5], "nice": false, "zero": false}, "axis": {"orient": "left", "values": [1,2,3,4], "title": null}}}},
     {"data": {"name": "thL"}, "transform": [{"filter": "datum.p==4"}], "mark": {"type": "text", "fontSize": 18},
      "encoding": {"x": {"field": "e", "type": "quantitative", "scale": {"domain": [285, 310], "nice": false, "zero": false}, "axis": {"orient": "top", "tickCount": 25, "labels": false, "title": null, "tickSize": {"condition": {"test": "datum.value % 5 === 0", "value": -6}, "value": -3.5}}},
                   "y": {"field": "v", "type": "quantitative", "scale": {"domain": [0, 5], "nice": false, "zero": false}, "axis": {"orient": "right", "values": [1,2,3,4], "title": null}},
                   "text": {"field": "t"}}}
    ]},
   {"width": 318, "height": 64, "resolve": {"axis": {"x": "independent", "y": "independent"}},
    "layer": [
     {"data": {"name": "L"}, "transform": [{"filter": "datum.p==5"}], "mark": {"type": "line", "color": "black", "strokeWidth": 1.3, "interpolate": "monotone"},
      "encoding": {"x": {"field": "e", "type": "quantitative", "scale": {"domain": [285, 310], "nice": false, "zero": false}, "axis": {"orient": "bottom", "tickCount": 25, "labels": true, "labelFlush": false, "labelExpr": "datum.value % 10 === 0 ? datum.label : ''", "labelFontSize": 16, "labelPadding": 17, "title": "Photon Energy (eV)", "titleFontSize": 20, "titleX": 165, "titleY": 51, "titleBaseline": "alphabetic", "tickSize": {"condition": {"test": "datum.value % 5 === 0", "value": -6}, "value": -3.5}}},
                   "y": {"field": "v", "type": "quantitative", "scale": {"domain": [0, 4], "nice": false, "zero": false}, "axis": {"orient": "left", "values": [1,2,3], "title": null}}}},
     {"data": {"name": "thL"}, "transform": [{"filter": "datum.p==5"}], "mark": {"type": "text", "fontSize": 18},
      "encoding": {"x": {"field": "e", "type": "quantitative", "scale": {"domain": [285, 310], "nice": false, "zero": false}, "axis": {"orient": "top", "tickCount": 25, "labels": false, "title": null, "tickSize": {"condition": {"test": "datum.value % 5 === 0", "value": -6}, "value": -3.5}}},
                   "y": {"field": "v", "type": "quantitative", "scale": {"domain": [0, 4], "nice": false, "zero": false}, "axis": {"orient": "right", "values": [1,2,3], "title": null}},
                   "text": {"field": "t"}}}
    ]}
  ]
 },
 {
  "title": {"text": "(b) Total (H⁺) Ion Yields", "fontSize": 17.5, "dx": 19, "offset": 4},
  "spacing": 0,
  "bounds": "flush",
  "vconcat": [
   {"width": 315, "height": 138, "resolve": {"axis": {"x": "independent", "y": "independent"}},
    "layer": [
     {"data": {"name": "R"}, "transform": [{"filter": "datum.p==1"}], "mark": {"type": "line", "color": "black", "strokeWidth": 1.1},
      "encoding": {"x": {"field": "e", "type": "quantitative", "scale": {"domain": [285, 310], "nice": false, "zero": false}, "axis": {"orient": "bottom", "tickCount": 25, "labels": false, "title": null, "tickSize": {"condition": {"test": "datum.value % 5 === 0", "value": -6}, "value": -3.5}}},
                   "y": {"field": "v", "type": "quantitative", "scale": {"domain": [0, 5.111], "nice": false, "zero": false}, "axis": {"orient": "left", "values": [1,2,3,4], "title": null}}}},
     {"data": {"name": "thR"}, "transform": [{"filter": "datum.p==1"}], "mark": {"type": "text", "fontSize": 22},
      "encoding": {"x": {"field": "e", "type": "quantitative", "scale": {"domain": [285, 310], "nice": false, "zero": false}, "axis": {"orient": "top", "tickCount": 25, "labels": false, "title": null, "tickSize": {"condition": {"test": "datum.value % 5 === 0", "value": -6}, "value": -3.5}}},
                   "y": {"field": "v", "type": "quantitative", "scale": {"domain": [0, 5.111], "nice": false, "zero": false}, "axis": {"orient": "right", "values": [1,2,3,4], "title": null}},
                   "text": {"field": "t"}}},
     {"data": {"name": "nR"}, "mark": {"type": "text", "fontSize": 16},
      "encoding": {"x": {"field": "e", "type": "quantitative", "scale": {"domain": [285, 310], "nice": false, "zero": false}, "axis": null},
                   "y": {"field": "v", "type": "quantitative", "scale": {"domain": [0, 5.111], "nice": false, "zero": false}, "axis": null},
                   "text": {"field": "m"}}},
     {"data": {"name": "nR"}, "mark": {"type": "text", "fontSize": 13, "dx": 9, "dy": -1},
      "encoding": {"x": {"field": "e", "type": "quantitative", "scale": {"domain": [285, 310], "nice": false, "zero": false}, "axis": null},
                   "y": {"field": "v", "type": "quantitative", "scale": {"domain": [0, 5.111], "nice": false, "zero": false}, "axis": null},
                   "text": {"value": "*"}}},
     {"data": {"name": "nR"}, "mark": {"type": "text", "fontSize": 12, "dx": 12, "dy": 7},
      "encoding": {"x": {"field": "e", "type": "quantitative", "scale": {"domain": [285, 310], "nice": false, "zero": false}, "axis": null},
                   "y": {"field": "v", "type": "quantitative", "scale": {"domain": [0, 5.111], "nice": false, "zero": false}, "axis": null},
                   "text": {"field": "s"}}},
     {"data": {"name": "xR"}, "transform": [{"filter": "datum.k=='a' || datum.k=='d'"}], "mark": {"type": "rule", "color": "black", "strokeWidth": 1},
      "encoding": {"x": {"field": "e", "type": "quantitative", "scale": {"domain": [285, 310], "nice": false, "zero": false}, "axis": null},
                   "y": {"field": "v", "type": "quantitative", "scale": {"domain": [0, 5.111], "nice": false, "zero": false}, "axis": null},
                   "x2": {"field": "e2"}, "y2": {"field": "v2"}}},
     {"data": {"name": "xR"}, "transform": [{"filter": "datum.k=='t'"}], "mark": {"type": "rule", "color": "black", "strokeWidth": 3.5},
      "encoding": {"x": {"field": "e", "type": "quantitative", "scale": {"domain": [285, 310], "nice": false, "zero": false}, "axis": null},
                   "y": {"field": "v", "type": "quantitative", "scale": {"domain": [0, 5.111], "nice": false, "zero": false}, "axis": null},
                   "x2": {"field": "e2"}, "y2": {"field": "v2"}}},
     {"data": {"name": "xR"}, "transform": [{"filter": "datum.k=='h'"}], "mark": {"type": "point", "shape": "triangle-right", "filled": true, "color": "black", "size": 18, "opacity": 1},
      "encoding": {"x": {"field": "e", "type": "quantitative", "scale": {"domain": [285, 310], "nice": false, "zero": false}, "axis": null},
                   "y": {"field": "v", "type": "quantitative", "scale": {"domain": [0, 5.111], "nice": false, "zero": false}, "axis": null}}},
     {"data": {"name": "lbR"}, "mark": {"type": "text", "fontSize": 12},
      "encoding": {"x": {"field": "e", "type": "quantitative", "scale": {"domain": [285, 310], "nice": false, "zero": false}, "axis": null},
                   "y": {"field": "v", "type": "quantitative", "scale": {"domain": [0, 5.111], "nice": false, "zero": false}, "axis": null},
                   "text": {"field": "t"}}}
    ]},
   {"width": 315, "height": 106, "resolve": {"axis": {"x": "independent", "y": "independent"}},
    "layer": [
     {"data": {"name": "R"}, "transform": [{"filter": "datum.p==2"}], "mark": {"type": "line", "color": "black", "strokeWidth": 1.1},
      "encoding": {"x": {"field": "e", "type": "quantitative", "scale": {"domain": [285, 310], "nice": false, "zero": false}, "axis": {"orient": "bottom", "tickCount": 25, "labels": false, "title": null, "tickSize": {"condition": {"test": "datum.value % 5 === 0", "value": -6}, "value": -3.5}}},
                   "y": {"field": "v", "type": "quantitative", "scale": {"domain": [0, 3.926], "nice": false, "zero": false}, "axis": {"orient": "left", "values": [1,2,3], "title": null}}}},
     {"data": {"name": "thR"}, "transform": [{"filter": "datum.p==2"}], "mark": {"type": "text", "fontSize": 22},
      "encoding": {"x": {"field": "e", "type": "quantitative", "scale": {"domain": [285, 310], "nice": false, "zero": false}, "axis": {"orient": "top", "tickCount": 25, "labels": false, "title": null, "tickSize": {"condition": {"test": "datum.value % 5 === 0", "value": -6}, "value": -3.5}}},
                   "y": {"field": "v", "type": "quantitative", "scale": {"domain": [0, 3.926], "nice": false, "zero": false}, "axis": {"orient": "right", "values": [1,2,3], "title": null}},
                   "text": {"field": "t"}}}
    ]},
   {"width": 315, "height": 81, "resolve": {"axis": {"x": "independent", "y": "independent"}},
    "layer": [
     {"data": {"name": "R"}, "transform": [{"filter": "datum.p==3"}], "mark": {"type": "line", "color": "black", "strokeWidth": 1.1},
      "encoding": {"x": {"field": "e", "type": "quantitative", "scale": {"domain": [285, 310], "nice": false, "zero": false}, "axis": {"orient": "bottom", "tickCount": 25, "labels": false, "title": null, "tickSize": {"condition": {"test": "datum.value % 5 === 0", "value": -6}, "value": -3.5}}},
                   "y": {"field": "v", "type": "quantitative", "scale": {"domain": [0, 3], "nice": false, "zero": false}, "axis": {"orient": "left", "values": [1,2], "title": "Ion yields (a.u.)", "titleFontSize": 22, "titleX": -16, "titleY": 41, "titleAngle": 270, "titleBaseline": "bottom", "titleAlign": "center"}}}},
     {"data": {"name": "thR"}, "transform": [{"filter": "datum.p==3"}], "mark": {"type": "text", "fontSize": 22},
      "encoding": {"x": {"field": "e", "type": "quantitative", "scale": {"domain": [285, 310], "nice": false, "zero": false}, "axis": {"orient": "top", "tickCount": 25, "labels": false, "title": null, "tickSize": {"condition": {"test": "datum.value % 5 === 0", "value": -6}, "value": -3.5}}},
                   "y": {"field": "v", "type": "quantitative", "scale": {"domain": [0, 3], "nice": false, "zero": false}, "axis": {"orient": "right", "values": [1,2], "title": null}},
                   "text": {"field": "t"}}}
    ]},
   {"width": 315, "height": 79, "resolve": {"axis": {"x": "independent", "y": "independent"}},
    "layer": [
     {"data": {"name": "R"}, "transform": [{"filter": "datum.p==4"}], "mark": {"type": "line", "color": "black", "strokeWidth": 1.1},
      "encoding": {"x": {"field": "e", "type": "quantitative", "scale": {"domain": [285, 310], "nice": false, "zero": false}, "axis": {"orient": "bottom", "tickCount": 25, "labels": false, "title": null, "tickSize": {"condition": {"test": "datum.value % 5 === 0", "value": -6}, "value": -3.5}}},
                   "y": {"field": "v", "type": "quantitative", "scale": {"domain": [0, 2.926], "nice": false, "zero": false}, "axis": {"orient": "left", "values": [1,2], "title": null}}}},
     {"data": {"name": "thR"}, "transform": [{"filter": "datum.p==4"}], "mark": {"type": "text", "fontSize": 22},
      "encoding": {"x": {"field": "e", "type": "quantitative", "scale": {"domain": [285, 310], "nice": false, "zero": false}, "axis": {"orient": "top", "tickCount": 25, "labels": false, "title": null, "tickSize": {"condition": {"test": "datum.value % 5 === 0", "value": -6}, "value": -3.5}}},
                   "y": {"field": "v", "type": "quantitative", "scale": {"domain": [0, 2.926], "nice": false, "zero": false}, "axis": {"orient": "right", "values": [1,2], "title": null}},
                   "text": {"field": "t"}}}
    ]},
   {"width": 315, "height": 81, "resolve": {"axis": {"x": "independent", "y": "independent"}},
    "layer": [
     {"data": {"name": "R"}, "transform": [{"filter": "datum.p==5"}], "mark": {"type": "line", "color": "black", "strokeWidth": 1.1},
      "encoding": {"x": {"field": "e", "type": "quantitative", "scale": {"domain": [285, 310], "nice": false, "zero": false}, "axis": {"orient": "bottom", "tickCount": 25, "labels": true, "labelFlush": false, "labelExpr": "datum.value % 10 === 0 ? datum.label : ''", "labelFontSize": 22, "labelPadding": 11, "title": "Photon Energy (eV)", "titleFontSize": 21, "titleX": 170, "titleY": 48, "titleBaseline": "alphabetic", "tickSize": {"condition": {"test": "datum.value % 5 === 0", "value": -6}, "value": -3.5}}},
                   "y": {"field": "v", "type": "quantitative", "scale": {"domain": [0, 3], "nice": false, "zero": false}, "axis": {"orient": "left", "values": [1,2], "title": null}}}},
     {"data": {"name": "thR"}, "transform": [{"filter": "datum.p==5"}], "mark": {"type": "text", "fontSize": 22},
      "encoding": {"x": {"field": "e", "type": "quantitative", "scale": {"domain": [285, 310], "nice": false, "zero": false}, "axis": {"orient": "top", "tickCount": 25, "labels": false, "title": null, "tickSize": {"condition": {"test": "datum.value % 5 === 0", "value": -6}, "value": -3.5}}},
                   "y": {"field": "v", "type": "quantitative", "scale": {"domain": [0, 3], "nice": false, "zero": false}, "axis": {"orient": "right", "values": [1,2], "title": null}},
                   "text": {"field": "t"}}}
    ]}
  ]
 }
]
}
